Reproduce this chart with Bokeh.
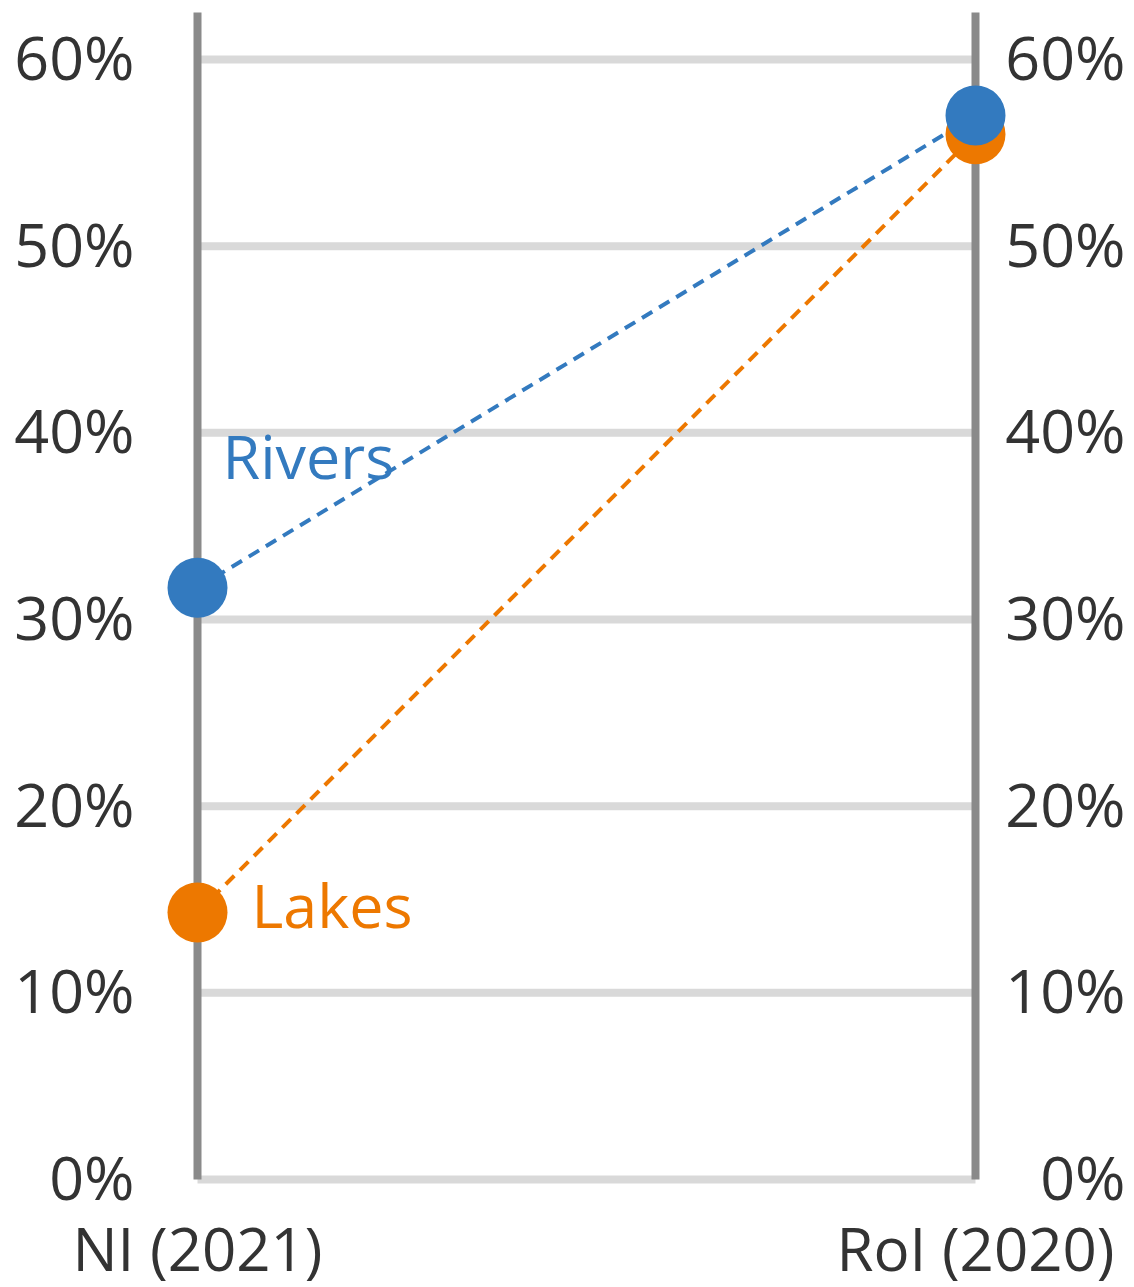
from bokeh.plotting import figure
from bokeh.models import Range1d
from bokeh.core.properties import value
from bokeh.embed import file_html
from bokeh.resources import INLINE

# Share of water bodies: Northern Ireland vs Republic of Ireland
categories = ["NI (2021)", "RoI (2020)"]
rivers = [31.7, 57.0]
lakes = [14.3, 56.0]
ticks = [0, 10, 20, 30, 40, 50, 60]
tick_labels = ["0%", "10%", "20%", "30%", "40%", "50%", "60%"]

BLUE = "#337abf"
ORANGE = "#ed7800"
TEXT = "#333333"
FONT = value("Open Sans")
FS = "61px"

W, H = 1134, 1287
# pixel layout of the two category columns and the value axis
X0_PX, X1_PX = 197, 975
Y0_PX, Y60_PX = 1179, 59
xppu = (X1_PX - X0_PX) / 1.0
yppu = (Y0_PX - Y60_PX) / 60.0

x_range = Range1d(-X0_PX / xppu, 1 + (W - X1_PX) / xppu)
y_range = Range1d(-(H - Y0_PX) / yppu, 60 + Y60_PX / yppu)
col_top = 60 + (Y60_PX - 12) / yppu

p = figure(width=W, height=H, output_backend="svg", toolbar_location=None,
           x_axis_location=None, y_axis_location=None, min_border=0,
           x_range=x_range, y_range=y_range)
p.outline_line_color = None
p.grid.visible = False
p.background_fill_color = "white"

xs = list(range(len(categories)))

# horizontal guide lines
p.segment(x0=0, y0=ticks, x1=1, y1=ticks, line_width=8, line_color="#d9d9d9")
# the two category columns
p.segment(x0=xs, y0=0, x1=xs, y1=col_top, line_width=8, line_color="#8a8a8a")

# slopes
p.line(xs, lakes, line_color=ORANGE, line_width=4, line_dash="12 8")
p.line(xs, rivers, line_color=BLUE, line_width=4, line_dash="12 8")
p.scatter(xs, lakes, size=60, fill_color=ORANGE, line_color=None)
p.scatter(xs, rivers, size=60, fill_color=BLUE, line_color=None)

# value labels on both sides
p.text(x=0, y=ticks, text=tick_labels, text_align="right", text_baseline="alphabetic",
       x_offset=-63, y_offset=-3, text_font=FONT, text_font_size=FS, text_color=TEXT)
p.text(x=1, y=ticks, text=tick_labels, text_align="right", text_baseline="alphabetic",
       x_offset=150, y_offset=-3, text_font=FONT, text_font_size=FS, text_color=TEXT)

# category labels
p.text(x=xs, y=0, text=categories, text_align="center", text_baseline="alphabetic",
       y_offset=68, text_font=FONT, text_font_size="60px", text_color=TEXT)

# series labels
p.text(x=0, y=rivers[0], text=["Rivers"], text_align="left", text_baseline="alphabetic",
       x_offset=25, y_offset=-132, text_font=FONT, text_font_size=FS, text_color=BLUE)
p.text(x=0, y=lakes[0], text=["Lakes"], text_align="left", text_baseline="alphabetic",
       x_offset=54, y_offset=-8, text_font=FONT, text_font_size=FS, text_color=ORANGE)

open("out.html", "w").write(file_html(p, INLINE))
